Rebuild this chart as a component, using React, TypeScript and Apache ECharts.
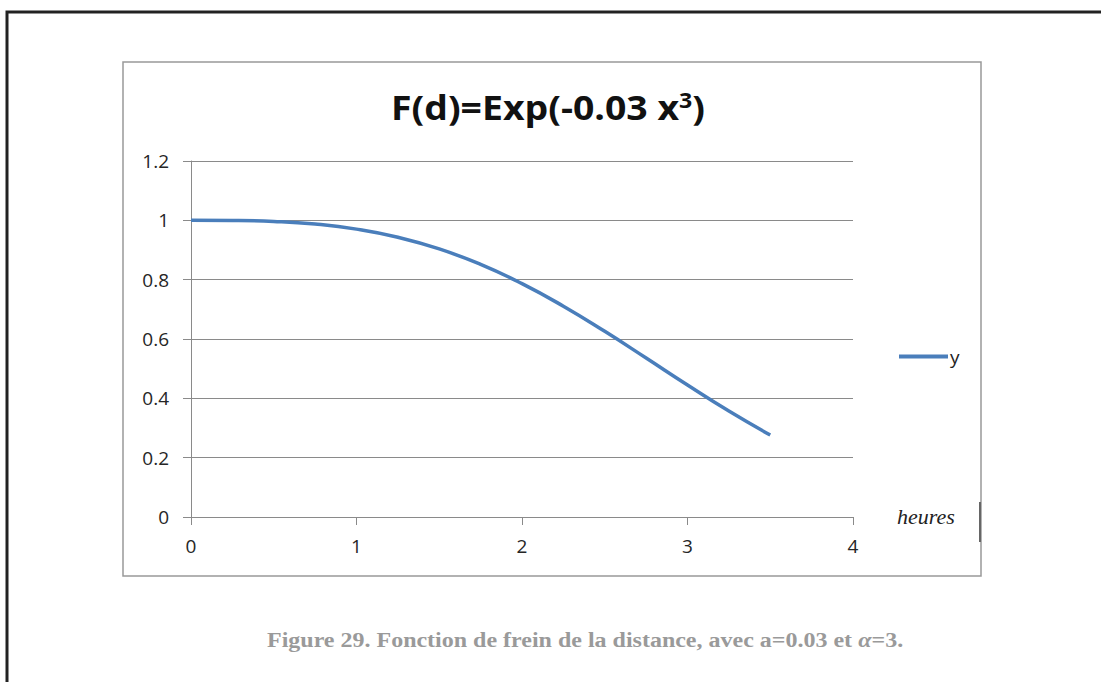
import React, { useEffect, useRef } from "react";
import * as echarts from "echarts";

const xValues = [0, 0.25, 0.5, 0.75, 1, 1.25, 1.5, 1.75, 2, 2.25, 2.5, 2.75, 3, 3.25, 3.5];
const yValues = [1, 0.9995, 0.9963, 0.9874, 0.9704, 0.9431, 0.9037, 0.8515, 0.7866, 0.7106, 0.6258, 0.5358, 0.4449, 0.357, 0.2763];
const seriesName = "y";
const titleText = "F(d)=Exp(-0.03 x{sup|3})";
const xAxisName = "heures";
const captionMain = "Figure 29. Fonction de frein de la distance, avec a=0.03 et ";
const captionAlpha = "α";
const captionEnd = "=3.";

export default function App() {
  const ref = useRef<HTMLDivElement>(null);
  useEffect(() => {
    if (!ref.current) return;
    const chart = echarts.init(ref.current, null, { renderer: "svg" });
    const data = xValues.map((x, i) => [x, yValues[i]]);
    chart.setOption({
      animation: false,
      backgroundColor: "#ffffff",
      grid: { left: 191, top: 161, width: 662, height: 356, containLabel: false },
      xAxis: {
        type: "value",
        min: 0,
        max: 4,
        interval: 1,
        axisLine: { show: true, lineStyle: { color: "#8a8a8a", width: 1 } },
        axisTick: { show: true, length: 8, lineStyle: { color: "#8a8a8a" } },
        splitLine: { show: false },
        axisLabel: { color: "#262626", fontSize: 19, fontFamily: "Open Sans", margin: 19 },
      },
      yAxis: {
        type: "value",
        min: 0,
        max: 1.2,
        interval: 0.2,
        axisLine: { show: true, lineStyle: { color: "#8a8a8a", width: 1 } },
        axisTick: { show: true, length: 8, lineStyle: { color: "#8a8a8a" } },
        splitLine: { show: true, lineStyle: { color: "#8a8a8a", width: 1 } },
        axisLabel: {
          color: "#262626",
          fontSize: 19,
          fontFamily: "Open Sans",
          margin: 22,
          formatter: (v: number) => String(Math.round(v * 10) / 10),
        },
      },
      legend: {
        left: 894,
        top: 342,
        orient: "vertical",
        icon: "rect",
        itemWidth: 49,
        itemHeight: 4,
        itemGap: 4,
        textStyle: { color: "#222", fontSize: 19, fontFamily: "Open Sans", padding: [0, 0, 0, -3] },
        data: [seriesName],
      },
      series: [
        {
          name: seriesName,
          type: "line",
          data,
          smooth: true,
          symbol: "none",
          lineStyle: { color: "#4a7ebb", width: 3.5 },
          itemStyle: { color: "#4a7ebb" },
        },
      ],
      graphic: [
        {
          type: "polyline",
          shape: { points: [[7, 682], [7, 12], [1101, 12]] },
          style: { stroke: "#222", lineWidth: 3, fill: null },
          silent: true,
        },
        {
          type: "rect",
          shape: { x: 123, y: 62, width: 858, height: 514 },
          style: { stroke: "#999", lineWidth: 1.5, fill: null },
          silent: true,
          z: -1,
        },
        {
          type: "line",
          shape: { x1: 980, y1: 502, x2: 980, y2: 542 },
          style: { stroke: "#666", lineWidth: 2 },
          silent: true,
        },
        {
          type: "text",
          x: 548,
          y: 107,
          scaleX: 1.1,
          style: {
            text: titleText,
            fontSize: 34,
            fontWeight: "bold",
            fontFamily: "Open Sans",
            fill: "#111",
            align: "center",
            verticalAlign: "middle",
            rich: {
              sup: { fontSize: 21, fontWeight: "bold", fontFamily: "Open Sans", fill: "#111", padding: [0, 0, 16, 0] },
            },
          },
        },
        {
          type: "text",
          x: 926,
          y: 516,
          style: {
            text: xAxisName,
            fontSize: 22,
            fontStyle: "italic",
            fontFamily: "Liberation Serif",
            fill: "#222",
            align: "center",
            verticalAlign: "middle",
          },
        },
        {
          type: "text",
          x: 585,
          y: 640,
          scaleX: 1.2,
          style: {
            text: "{m|" + captionMain + "}{a|" + captionAlpha + "}{m|" + captionEnd + "}",
            align: "center",
            verticalAlign: "middle",
            rich: {
              m: { fontSize: 20, fontWeight: "bold", fontFamily: "Liberation Serif", fill: "#9a9a9a" },
              a: { fontSize: 20, fontWeight: "bold", fontStyle: "italic", fontFamily: "Liberation Serif", fill: "#9a9a9a" },
            },
          },
        },
      ],
    });
    return () => chart.dispose();
  }, []);
  return <div ref={ref} style={{ position: "absolute", left: 0, top: 0, width: 1101, height: 682 }} />;
}
